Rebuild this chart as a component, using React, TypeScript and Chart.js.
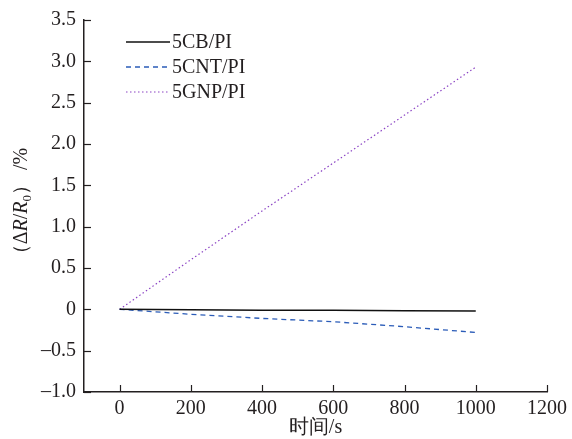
import React, { useEffect, useRef } from "react";
import { Chart, registerables } from "chart.js";

Chart.register(...registerables);

const timeValues = [0, 200, 400, 600, 800, 1000];
const cbValues = [0, -0.005, -0.01, -0.012, -0.016, -0.02];
const cntValues = [0, -0.06, -0.11, -0.15, -0.21, -0.28];
const gnpValues = [0, 0.6, 1.19, 1.77, 2.35, 2.93];
const seriesNames = ["5CB/PI", "5CNT/PI", "5GNP/PI"];
const xTicks = [0, 200, 400, 600, 800, 1000, 1200];
const yTicks = [-1.0, -0.5, 0, 0.5, 1.0, 1.5, 2.0, 2.5, 3.0, 3.5];
const xTitle = "时间/s";

const FONT = '"Liberation Serif", "Times New Roman", serif';
const INK = "#231f20";
const colors = ["#111111", "#2b5cb8", "#8b44c4"];
const dashes = [[], [5, 4], [1.5, 2.5]];
const widths = [1.5, 1.3, 1.2];

const fmtY = (v: number) => (v === 0 ? "0" : v < 0 ? "\u2013" + Math.abs(v).toFixed(1) : v.toFixed(1));

const decorPlugin = {
  id: "decor",
  afterDraw(chart: any) {
    const ctx = chart.ctx;
    const xs = chart.scales.x;
    const ys = chart.scales.y;
    const area = chart.chartArea;
    ctx.save();
    // inside ticks
    ctx.strokeStyle = INK;
    ctx.lineWidth = 1.2;
    xTicks.forEach((v) => {
      const px = Math.round(xs.getPixelForValue(v)) + 0.5;
      ctx.beginPath();
      ctx.moveTo(px, area.bottom);
      ctx.lineTo(px, area.bottom - 7);
      ctx.stroke();
    });
    yTicks.forEach((v) => {
      const py = Math.round(ys.getPixelForValue(v)) + 0.5;
      ctx.beginPath();
      ctx.moveTo(area.left, py);
      ctx.lineTo(area.left + 7, py);
      ctx.stroke();
    });
    // legend
    const lx0 = 126;
    const lx1 = 170;
    const rows = [42, 67, 92];
    ctx.font = "20px " + FONT;
    ctx.textBaseline = "middle";
    ctx.textAlign = "left";
    seriesNames.forEach((name, i) => {
      ctx.strokeStyle = colors[i];
      ctx.lineWidth = widths[i];
      ctx.setLineDash(dashes[i]);
      ctx.beginPath();
      ctx.moveTo(lx0, rows[i]);
      ctx.lineTo(lx1, rows[i]);
      ctx.stroke();
      ctx.setLineDash([]);
      ctx.fillStyle = INK;
      ctx.fillText(name, lx1 + 2, rows[i] + 1);
    });
    // x title
    ctx.font = "20px " + FONT;
    ctx.textAlign = "center";
    ctx.textBaseline = "middle";
    ctx.fillStyle = INK;
    ctx.fillText(xTitle, (area.left + area.right) / 2, 428);
    // y title (rotated)
    ctx.translate(22, (area.top + area.bottom) / 2);
    ctx.rotate(-Math.PI / 2);
    const parts: [string, string, number][] = [
      ["（", "20px " + FONT, 0],
      ["Δ", "20px " + FONT, 0],
      ["R", "italic 20px " + FONT, 0],
      ["/", "20px " + FONT, 0],
      ["R", "italic 20px " + FONT, 0],
      ["0", "13px " + FONT, 6],
      ["）", "20px " + FONT, 0],
      [" /%", "20px " + FONT, 0],
    ];
    let total = 0;
    parts.forEach(([t, f]) => {
      ctx.font = f;
      total += ctx.measureText(t).width;
    });
    let cx = -total / 2;
    ctx.textAlign = "left";
    ctx.textBaseline = "middle";
    parts.forEach(([t, f, dy]) => {
      ctx.font = f;
      ctx.fillText(t, cx, dy);
      cx += ctx.measureText(t).width;
    });
    ctx.restore();
  },
};

export default function App() {
  const ref = useRef<HTMLCanvasElement>(null);
  useEffect(() => {
    document.body.style.margin = "0";
    const mk = (vals: number[]) => timeValues.map((x, i) => ({ x, y: vals[i] }));
    const allSeries = [cbValues, cntValues, gnpValues];
    const chart = new Chart(ref.current!, {
      type: "line",
      data: {
        datasets: allSeries.map((vals, i) => ({
          label: seriesNames[i],
          data: mk(vals),
          borderColor: colors[i],
          borderWidth: widths[i],
          borderDash: dashes[i],
          pointRadius: 0,
          fill: false,
          tension: 0,
        })),
      },
      options: {
        animation: false,
        responsive: false,
        layout: { padding: { top: 19, right: 24, left: 0, bottom: 0 } },
        plugins: { legend: { display: false }, tooltip: { enabled: false } },
        scales: {
          x: {
            type: "linear",
            min: -100,
            max: 1200,
            afterBuildTicks: (s: any) => {
              s.ticks = xTicks.map((v) => ({ value: v }));
            },
            afterFit: (s: any) => {
              s.height = 47;
            },
            grid: { display: false, drawTicks: false },
            border: { display: true, color: INK, width: 1.5 },
            ticks: {
              color: INK,
              font: { family: FONT, size: 20 },
              padding: 5,
              maxRotation: 0,
              autoSkip: false,
              callback: (v: any) => String(v),
            },
          },
          y: {
            type: "linear",
            min: -1,
            max: 3.5,
            afterBuildTicks: (s: any) => {
              s.ticks = yTicks.map((v) => ({ value: v }));
            },
            afterFit: (s: any) => {
              s.width = 84;
            },
            grid: { display: false, drawTicks: false },
            border: { display: true, color: INK, width: 1.5 },
            ticks: {
              color: INK,
              font: { family: FONT, size: 20 },
              padding: 8,
              autoSkip: false,
              callback: (v: any) => fmtY(Number(v)),
            },
          },
        },
      },
      plugins: [decorPlugin],
    } as any);
    return () => chart.destroy();
  }, []);
  return (
    <div style={{ width: 572, height: 439 }}>
      <canvas ref={ref} width={572} height={439} style={{ display: "block" }} />
    </div>
  );
}
